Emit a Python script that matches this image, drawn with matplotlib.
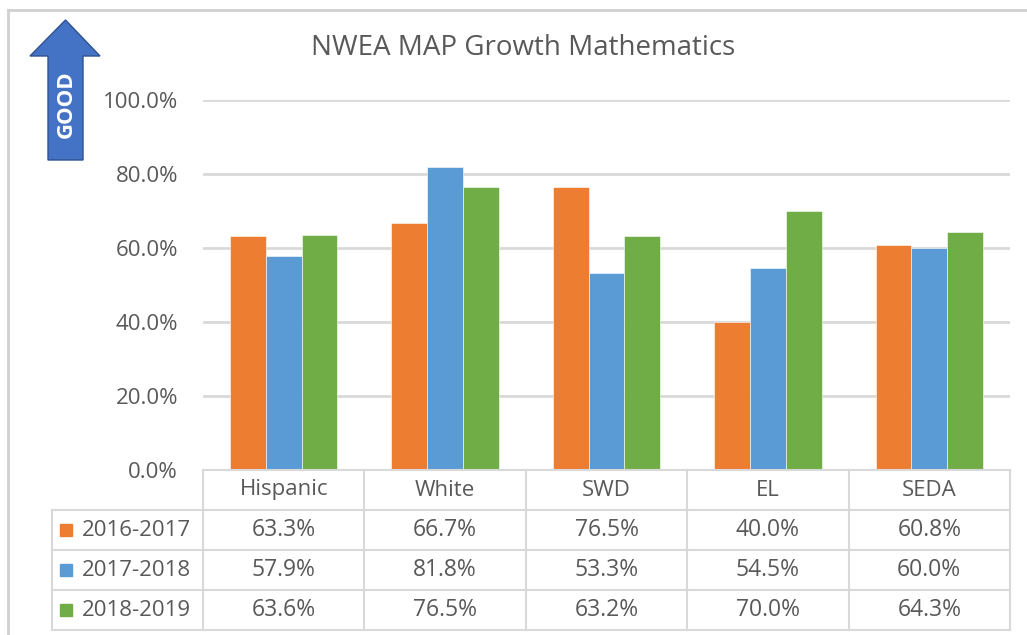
import matplotlib
matplotlib.use("Agg")
import matplotlib.pyplot as plt
from matplotlib.lines import Line2D
from matplotlib.patches import Polygon, Rectangle

categories = ["Hispanic", "White", "SWD", "EL", "SEDA"]
years = ["2016-2017", "2017-2018", "2018-2019"]
v2017 = [63.3, 66.7, 76.5, 40.0, 60.8]
v2018 = [57.9, 81.8, 53.3, 54.5, 60.0]
v2019 = [63.6, 76.5, 63.2, 70.0, 64.3]
series = [v2017, v2018, v2019]
colors = ["#ED7D31", "#5B9BD5", "#70AD47"]

W, H = 1027, 635
plt.rcParams['font.family'] = ['Open Sans', 'DejaVu Sans']
txt = "#595959"
grid = "#D9D9D9"
fs = 16

fig = plt.figure(figsize=(W / 100, H / 100), dpi=100)

def fx(x):
    return x / W

def fy(y):
    return 1 - y / H

def hline(x0, x1, y, c=grid, lw=1.5):
    fig.add_artist(Line2D([fx(x0), fx(x1)], [fy(y), fy(y)], color=c, lw=lw))

def vline(x, y0, y1, c=grid, lw=1.5):
    fig.add_artist(Line2D([fx(x), fx(x)], [fy(y0), fy(y1)], color=c, lw=lw))

# outer frame
hline(8, W, 10, c="#D0D0D0", lw=2)
vline(8, 10, H, c="#D0D0D0", lw=2)

left, right, top, base = 203, 1010, 100, 470
ax = fig.add_axes([fx(left), fy(base), (right - left) / W, (base - top) / H])
ax.set_xlim(-0.5, len(categories) - 0.5)
ax.set_ylim(0, 1.0)
w = 0.222
for k, vals in enumerate(series):
    ax.bar([i + (k - 1) * w for i in range(len(categories))], [v / 100 for v in vals],
           width=w, color=colors[k], edgecolor="white", linewidth=0.4, zorder=3)
ax.set_yticks([0, 0.2, 0.4, 0.6, 0.8, 1.0])
ax.set_yticklabels([f"{t * 100:.1f}%" for t in ax.get_yticks()], fontsize=fs, color=txt)
ax.tick_params(axis="y", length=0, pad=18)
ax.set_xticks([])
ax.grid(axis="y", color=grid, lw=2, zorder=0)
for s in ax.spines.values():
    s.set_visible(False)

fig.text(fx(523), fy(48), "NWEA MAP Growth Mathematics", ha="center", va="center",
         fontsize=20, color=txt)

# GOOD arrow
pts = [(65.5, 20), (100, 56), (83, 56), (83, 160), (48, 160), (48, 56), (30, 56)]
fig.add_artist(Polygon([(fx(x), fy(y)) for x, y in pts], closed=True,
                       transform=fig.transFigure, facecolor="#4472C4",
                       edgecolor="#2F528F", lw=1))
fig.text(fx(66), fy(104), "GOOD", rotation=90, ha="center", va="center",
         fontsize=16, fontweight="bold", color="white")

# data table
colw = (right - left) / len(categories)
rows = [470, 510, 550, 590, 630]
hline(left, right, rows[0])
for y in rows[1:]:
    hline(52, right, y)
vline(52, rows[1], rows[-1])
for i in range(len(categories) + 1):
    vline(left + i * colw, rows[0], rows[-1])

for i, c in enumerate(categories):
    fig.text(fx(left + (i + 0.5) * colw), fy((rows[0] + rows[1]) / 2), c,
             ha="center", va="center", fontsize=fs, color=txt)
for k, vals in enumerate(series):
    yc = (rows[k + 1] + rows[k + 2]) / 2
    fig.add_artist(Rectangle((fx(60), fy(yc + 6)), 12 / W, 12 / H,
                             transform=fig.transFigure, color=colors[k]))
    fig.text(fx(82), fy(yc), years[k], ha="left", va="center", fontsize=fs, color=txt)
    for i, v in enumerate(vals):
        fig.text(fx(left + (i + 0.5) * colw), fy(yc), f"{v:.1f}%",
                 ha="center", va="center", fontsize=16.5, color=txt)

fig.savefig("out.png", dpi=100, facecolor="white")
